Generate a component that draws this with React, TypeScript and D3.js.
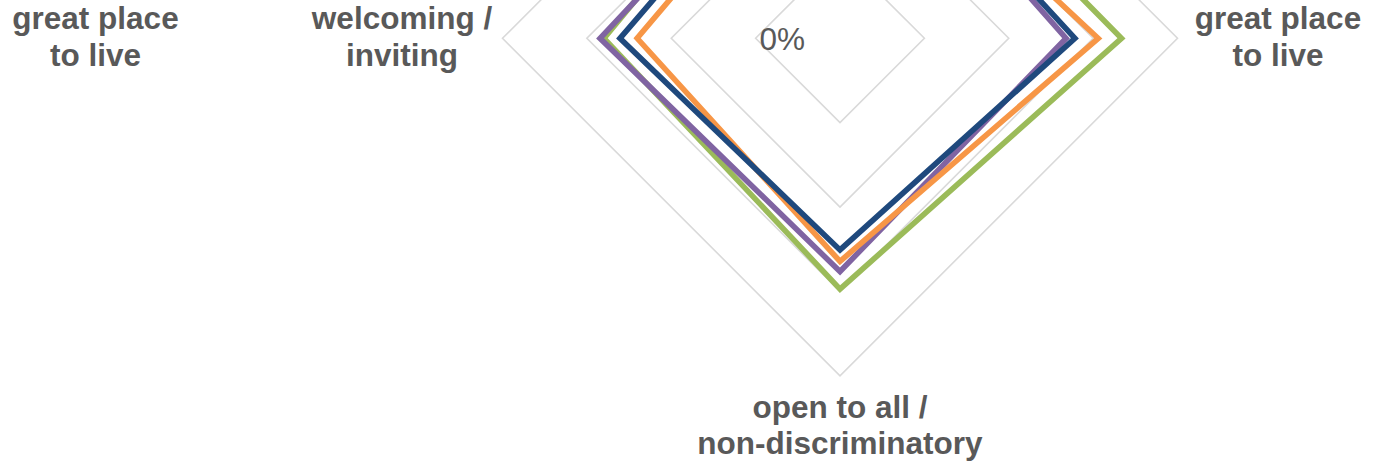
import React from "react";
import * as d3 from "d3";

// Axes, clockwise from the top; each label is split into its display lines.
const categoryLines: string[][] = [
  [],
  ["great place", "to live"],
  ["open to all /", "non-discriminatory"],
  ["welcoming /", "inviting"],
];

// Label of the neighbouring panel's right-hand axis.
const neighbourLabel: string[] = ["great place", "to live"];

// Share of respondents per axis (top, right, bottom, left).
const valuesGreen = [0.845, 0.834, 0.743, 0.699];
const valuesPurple = [0.756, 0.67, 0.691, 0.711];
const valuesOrange = [0.711, 0.765, 0.661, 0.601];
const valuesBlue = [0.756, 0.696, 0.627, 0.652];

const seriesColors = ["#9BBB59", "#8064A2", "#F79646", "#1F497D"];
const seriesValues = [valuesGreen, valuesPurple, valuesOrange, valuesBlue];

const ticks = [0, 0.25, 0.5, 0.75, 1];

const W = 1384;
const H = 462;
const cx = 840;
const cy = 38.3;
const R = 337.5;
const sideOffset = 438;
const font = "'Liberation Sans', Arial, Helvetica, sans-serif";
const textColor = "#595959";

export default function App() {
  const n = categoryLines.length;
  const r = d3.scaleLinear().domain([0, 1]).range([0, R]);
  const angle = (i: number) => (i * 2 * Math.PI) / n;

  const radial = d3
    .lineRadial<number>()
    .angle((_, i) => angle(i))
    .radius((d) => r(d))
    .curve(d3.curveLinearClosed);

  const gridPath = (t: number) => radial(d3.range(n).map(() => t)) || "";

  const pct = d3.format(".0%");

  // Label anchor and line spacing per axis
  const labelPos = (i: number) => {
    const a = angle(i);
    const sx = Math.sin(a);
    const sy = -Math.cos(a);
    if (Math.abs(sx) > 0.5) {
      return { x: cx + sx * sideOffset, y: cy - 9.3, gap: 36.5 };
    }
    if (sy > 0) {
      return { x: cx, y: cy + R + 42.5, gap: 36 };
    }
    return { x: cx, y: cy - R - 60, gap: 36 };
  };

  // Only the tick labels that fall inside the drawing area
  const tickLabelY = (t: number) => cy - r(t) + 11.7;
  const shownTicks = ticks.filter((t) => tickLabelY(t) - 24 > 0);

  return (
    <svg
      width={W}
      height={H}
      style={{ position: "absolute", left: 0, top: 0, display: "block", background: "#fff" }}
    >
      <rect width={W} height={H} fill="#fff" />
      <g transform={`translate(${cx},${cy})`}>
        {ticks
          .filter((t) => t > 0)
          .map((t) => (
            <path key={t} d={gridPath(t)} fill="none" stroke="#D9D9D9" strokeWidth={1.6} />
          ))}
        {seriesValues.map((vals, si) => (
          <path
            key={si}
            d={radial(vals) || ""}
            fill="none"
            stroke={seriesColors[si]}
            strokeWidth={5.6}
            strokeLinejoin="miter"
          />
        ))}
      </g>
      {shownTicks.map((t) => (
        <text
          key={t}
          x={cx - 35}
          y={tickLabelY(t)}
          textAnchor="end"
          fontFamily={font}
          fontSize={31.5}
          fill={textColor}
        >
          {pct(t)}
        </text>
      ))}
      {categoryLines.map((lines, i) => {
        if (lines.length === 0) return null;
        const p = labelPos(i);
        return (
          <text
            key={i}
            x={p.x}
            y={p.y}
            textAnchor="middle"
            fontFamily={font}
            fontSize={31.5}
            fontWeight="bold"
            fill={textColor}
          >
            {lines.map((l, j) => (
              <tspan key={j} x={p.x} y={p.y + j * p.gap}>
                {l}
              </tspan>
            ))}
          </text>
        );
      })}
      <text
        x={95.5}
        y={cy - 9.3}
        textAnchor="middle"
        fontFamily={font}
        fontSize={31.5}
        fontWeight="bold"
        fill={textColor}
      >
        {neighbourLabel.map((l, j) => (
          <tspan key={j} x={95.5} y={cy - 9.3 + j * 36.5}>
            {l}
          </tspan>
        ))}
      </text>
    </svg>
  );
}
